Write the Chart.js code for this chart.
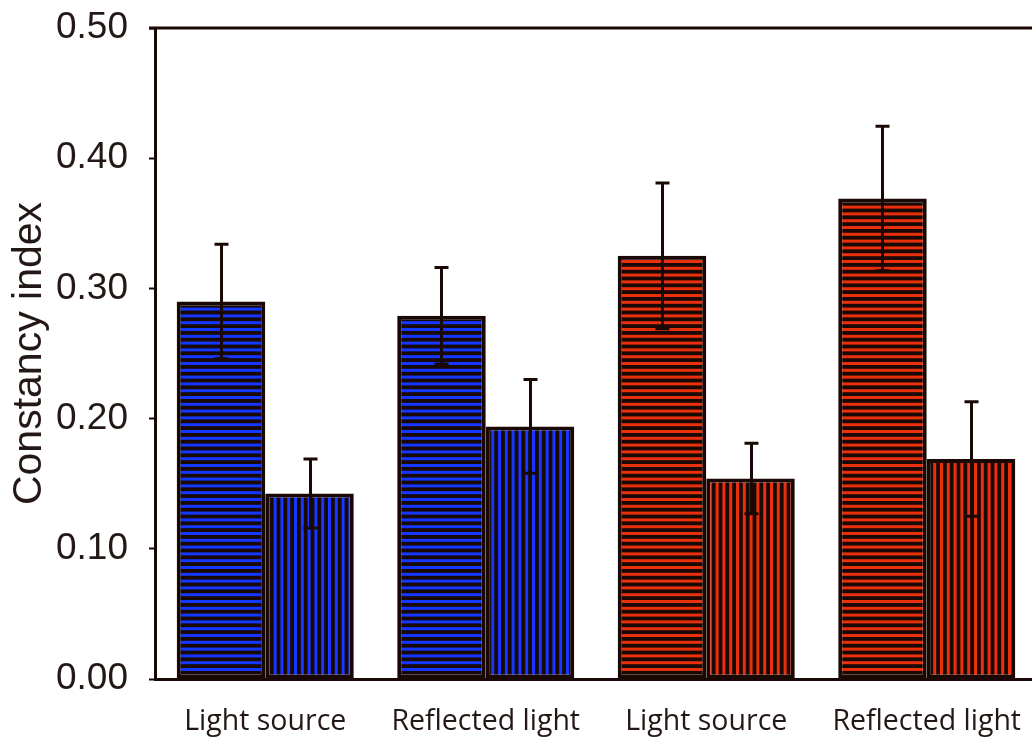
<!DOCTYPE html>
<html>
<head>
<meta charset="utf-8">
<script src="https://cdn.jsdelivr.net/npm/chart.js@4/dist/chart.umd.min.js"></script>
<style>
  html, body { margin: 0; padding: 0; background: #fff; overflow: hidden; }
  #wrap { width: 1040px; height: 742px; }
</style>
</head>
<body>
<div id="wrap"><canvas id="c" width="1040" height="742"></canvas></div>
<script>
// Groups along the x axis
const categories = ['Light source', 'Reflected light', 'Light source', 'Reflected light'];
// Horizontally striped bars (first bar of each pair)
const horizontalValues = [0.290, 0.279, 0.325, 0.369];
const horizontalErrors = [0.044, 0.037, 0.056, 0.0555];
// Vertically striped bars (second bar of each pair)
const verticalValues = [0.1425, 0.194, 0.154, 0.169];
const verticalErrors = [0.0265, 0.036, 0.027, 0.044];
// Y axis
const yTickValues = [0.00, 0.10, 0.20, 0.30, 0.40, 0.50];
const yTitle = 'Constancy index';

const INK = '#1a0805';
const TEXT = '#231815';
const BLUE = '#1438ff';
const RED = '#e8300c';

// Striped fill: coloured stripes on a dark ground
function stripes(color, vertical) {
  const period = 6.8, n = 5, size = Math.round(period * n);
  const c = document.createElement('canvas');
  c.width = size; c.height = size;
  const g = c.getContext('2d');
  g.fillStyle = INK;
  g.fillRect(0, 0, size, size);
  g.fillStyle = color;
  for (let i = 0; i < n; i++) {
    const p = i * period + 1.6;
    if (vertical) g.fillRect(p, 0, 3.0, size);
    else g.fillRect(0, p, size, 3.0);
  }
  return g.createPattern(c, 'repeat');
}
const blueH = stripes(BLUE, false), blueV = stripes(BLUE, true);
const redH = stripes(RED, false), redV = stripes(RED, true);

// Error bars with caps at both ends
const errorBars = {
  id: 'errorBars',
  afterDatasetsDraw(chart) {
    const { ctx, scales: { y } } = chart;
    ctx.save();
    ctx.strokeStyle = INK;
    ctx.lineWidth = 3;
    chart.data.datasets.forEach((ds, di) => {
      const meta = chart.getDatasetMeta(di);
      meta.data.forEach((bar, i) => {
        const v = ds.data[i], e = ds.errors[i];
        const yt = y.getPixelForValue(v + e);
        const yb = y.getPixelForValue(v - e);
        const x = Math.round(bar.x) + 0.5;
        ctx.beginPath();
        ctx.moveTo(x, yt); ctx.lineTo(x, yb);
        ctx.moveTo(x - 7, yt); ctx.lineTo(x + 7, yt);
        ctx.moveTo(x - 7, yb); ctx.lineTo(x + 7, yb);
        ctx.stroke();
      });
    });
    ctx.restore();
  }
};

// Frame line along the top of the plot
const topFrame = {
  id: 'topFrame',
  afterDraw(chart) {
    const { ctx, chartArea } = chart;
    ctx.save();
    ctx.strokeStyle = INK;
    ctx.lineWidth = 3;
    ctx.beginPath();
    ctx.moveTo(chartArea.left - 6, chartArea.top);
    ctx.lineTo(chartArea.right, chartArea.top);
    ctx.stroke();
    ctx.restore();
  }
};

new Chart(document.getElementById('c'), {
  type: 'bar',
  data: {
    labels: categories,
    datasets: [
      {
        label: 'horizontal',
        data: horizontalValues,
        errors: horizontalErrors,
        backgroundColor: [blueH, blueH, redH, redH],
        borderColor: INK,
        borderWidth: 4,
        borderSkipped: false
      },
      {
        label: 'vertical',
        data: verticalValues,
        errors: verticalErrors,
        backgroundColor: [blueV, blueV, redV, redV],
        borderColor: INK,
        borderWidth: 4,
        borderSkipped: false
      }
    ]
  },
  options: {
    responsive: false,
    animation: false,
    devicePixelRatio: 1,
    layout: { padding: { top: 28, right: 3, left: 0, bottom: 0 } },
    plugins: { legend: { display: false }, tooltip: { enabled: false } },
    datasets: { bar: { categoryPercentage: 0.803, barPercentage: 1.0 } },
    scales: {
      x: {
        grid: { display: false },
        border: { display: true, color: INK, width: 3 },
        ticks: {
          color: TEXT,
          padding: 18,
          maxRotation: 0,
          autoSkip: false,
          font: { family: "'Open Sans', sans-serif", size: 28.5 }
        },
        afterFit(scale) { scale.height = 63; }
      },
      y: {
        min: 0,
        max: 0.5,
        afterBuildTicks(scale) { scale.ticks = yTickValues.map(v => ({ value: v })); },
        grid: { drawOnChartArea: false, drawTicks: true, tickLength: 6, tickWidth: 2, tickColor: INK },
        border: { display: true, color: INK, width: 3 },
        ticks: {
          color: TEXT,
          padding: 21,
          font: { family: "'Liberation Sans', Arial, sans-serif", size: 37 },
          callback: v => Number(v).toFixed(2)
        },
        title: {
          display: true,
          text: yTitle,
          color: TEXT,
          padding: { top: 5, bottom: 0 },
          font: { family: "'Liberation Sans', Arial, sans-serif", size: 41 }
        },
        afterFit(scale) {
          scale.width = 155;
          scale.paddingTop = 0;
          scale.paddingBottom = 0;
        }
      }
    }
  },
  plugins: [errorBars, topFrame]
});
</script>
</body>
</html>
